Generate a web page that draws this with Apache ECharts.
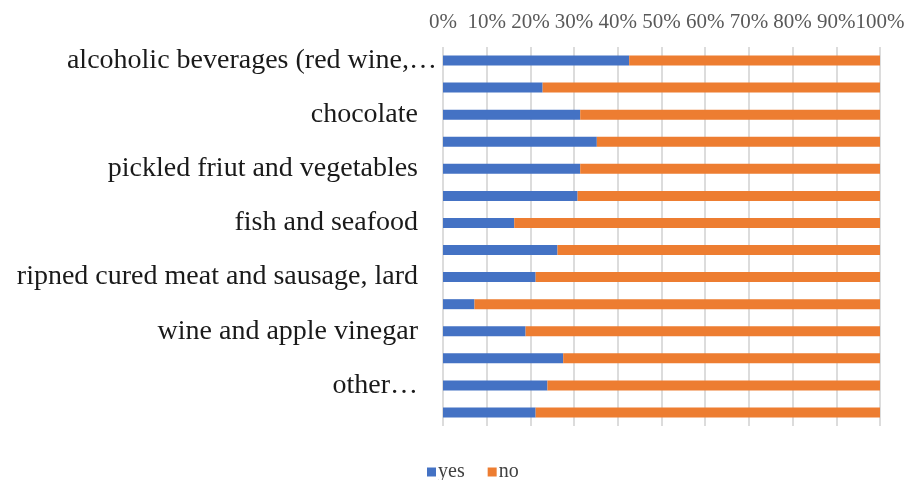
<!DOCTYPE html>
<html>
<head>
<meta charset="utf-8">
<script src="https://cdn.jsdelivr.net/npm/echarts@6/dist/echarts.min.js"></script>
<style>html,body{margin:0;padding:0;background:#fff}#c{width:908px;height:480px}</style>
</head>
<body>
<div id="c"></div>
<script>
var categories = [
  "alcoholic beverages (red wine,…", "",
  "chocolate", "",
  "pickled friut and vegetables", "",
  "fish and seafood", "",
  "ripned cured meat and sausage, lard", "",
  "wine and apple vinegar", "",
  "other…", ""
];
var yesValues = [42.6, 22.8, 31.4, 35.2, 31.4, 30.8, 16.3, 26.2, 21.2, 7.2, 18.9, 27.5, 23.9, 21.2];
var noValues  = [57.4, 77.2, 68.6, 64.8, 68.6, 69.2, 83.7, 73.8, 78.8, 92.8, 81.1, 72.5, 76.1, 78.8];
var xTicks = { min: 0, max: 100, interval: 10 };
var seriesNames = ["yes", "no"];

var chart = echarts.init(document.getElementById('c'), null, { renderer: 'canvas' });
var serif = '"Liberation Serif", "Times New Roman", serif';
chart.setOption({
  animation: false,
  backgroundColor: '#ffffff',
  textStyle: { fontFamily: serif },
  grid: { left: 443, right: 28, top: 47, bottom: 54, containLabel: false },
  legend: {
    data: seriesNames,
    left: 422, top: 457,
    itemWidth: 9, itemHeight: 9, itemGap: 23,
    icon: 'rect',
    textStyle: { fontFamily: serif, fontSize: 20, color: '#404040', padding: [0, 0, 0, -3] }
  },
  xAxis: {
    type: 'value', position: 'top',
    min: xTicks.min, max: xTicks.max, interval: xTicks.interval,
    axisLine: { show: false }, axisTick: { show: false },
    axisLabel: { formatter: '{value}%', color: '#595959', fontFamily: serif, fontSize: 21, margin: 14 },
    splitLine: { show: true, lineStyle: { color: '#d4d4d4', width: 1.6 } }
  },
  yAxis: {
    type: 'category', inverse: true, data: categories,
    axisLine: { show: false }, axisTick: { show: false },
    axisLabel: {
      interval: 0, margin: 6, color: '#1a1a1a', fontFamily: serif, fontSize: 28,
      formatter: function (v, i) { return i === 0 ? '{a|' + v + '}' : (v ? '{b|' + v + '}' : ''); },
      rich: {
        a: { fontFamily: serif, fontSize: 28, color: '#1a1a1a' },
        b: { fontFamily: serif, fontSize: 28, color: '#1a1a1a', padding: [0, 19, 0, 0] }
      }
    }
  },
  series: [
    { name: seriesNames[0], type: 'bar', stack: 'total', data: yesValues, barWidth: '37%', itemStyle: { color: '#4472c4' } },
    { name: seriesNames[1], type: 'bar', stack: 'total', data: noValues, barWidth: '37%', itemStyle: { color: '#ed7d31' } }
  ]
});
</script>
</body>
</html>
